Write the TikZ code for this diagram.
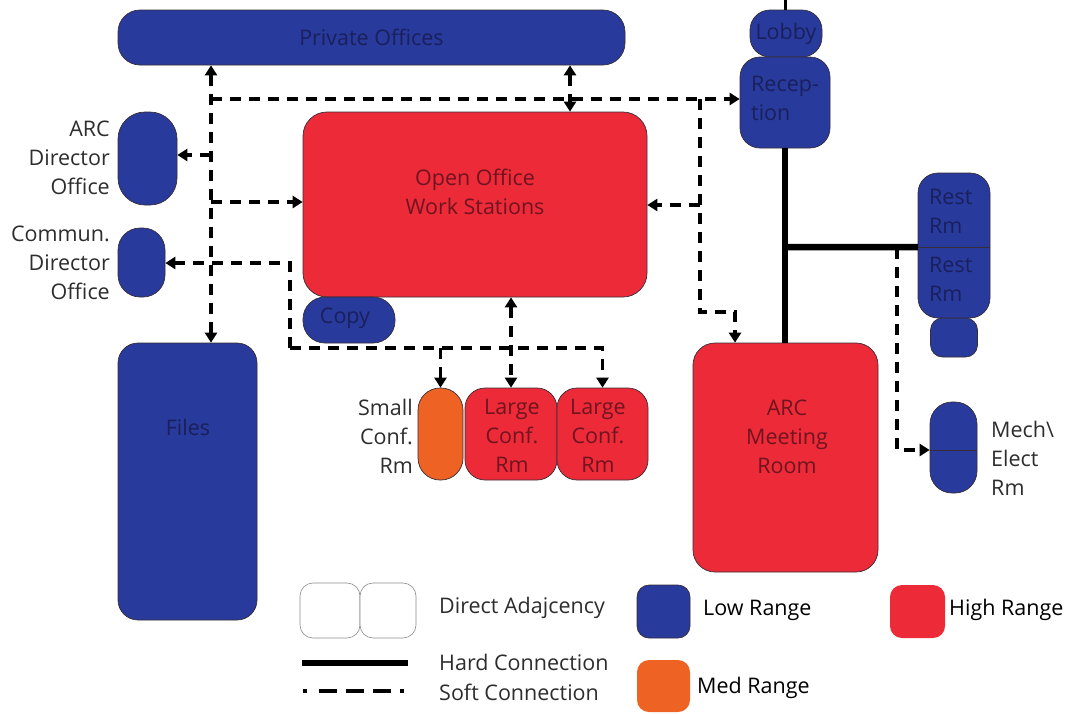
\documentclass[tikz,border=0pt]{standalone}
\usepackage{fontspec}
\setmainfont{Open Sans}
\usetikzlibrary{arrows.meta}
\definecolor{lowblue}{RGB}{40,58,155}
\definecolor{highred}{RGB}{236,42,56}
\definecolor{medorange}{RGB}{238,98,36}
\definecolor{navytext}{RGB}{26,32,92}
\definecolor{redtext}{RGB}{112,20,32}
\definecolor{edgecol}{RGB}{55,45,55}
\definecolor{labelcol}{RGB}{45,45,45}
\begin{document}
\begin{tikzpicture}[x=1pt,y=-1pt,
  >={Triangle[length=10pt,width=12pt]},
  room/.style={draw=edgecol, line width=0.7pt, inner sep=0pt},
  low/.style={room, fill=lowblue},
  high/.style={room, fill=highred},
  med/.style={room, fill=medorange},
  legendbox/.style={draw=black!45, line width=0.6pt, fill=white, inner sep=0pt, rounded corners=13pt},
  intext/.style={font=\fontsize{21.5}{29}\selectfont, inner sep=0pt, align=center},
  navy/.style={intext, text=navytext},
  dred/.style={intext, text=redtext},
  side/.style={font=\fontsize{21.5}{29}\selectfont, text=labelcol, inner sep=0pt},
  soft/.style={line width=3.2pt, dash pattern=on 11pt off 8pt},
  hard/.style={line width=6.5pt},
]
\useasboundingbox (0,0) rectangle (1076,713);

% ---- rooms ----
\node[low, minimum width=507pt, minimum height=55pt, rounded corners=22pt] (po) at (371.5,37.5) {};
\node[navy] (po-t) at (po.center) {Private Offices};

\node[low, minimum width=59pt, minimum height=93pt, rounded corners=27pt] (ardir) at (147.5,158.5) {};
\node[side, align=right, anchor=east] (ardir-t) at (110,158) {ARC\\Director\\Office};

\node[low, minimum width=47pt, minimum height=69pt, rounded corners=22pt] (comm) at (141.5,262.5) {};
\node[side, align=right, anchor=east] (comm-t) at (110,263) {Commun.\\Director\\Office};

\node[low, minimum width=139pt, minimum height=277pt, rounded corners=20pt] (files) at (187.5,481.5) {};
\node[navy] (files-t) at (188,427) {Files};

\node[high, minimum width=344pt, minimum height=185pt, rounded corners=24pt] (oo) at (475,204.5) {};
\node[dred] (oo-t) at (475,192) {Open Office\\Work Stations};

\node[low, minimum width=92pt, minimum height=46pt, rounded corners=22pt] (copy) at (349,320) {};
\node[navy] (copy-t) at (345,318) {Copy};

\node[med, minimum width=45pt, minimum height=92pt, rounded corners=22pt] (sm) at (440.5,434) {};
\node[side, align=right, anchor=east] (sm-t) at (413,436) {Small\\Conf.\\Rm};

\node[high, minimum width=92pt, minimum height=92pt, rounded corners=20pt] (lg1) at (511,434) {};
\node[dred] (lg1-t) at (512,436) {Large\\Conf.\\Rm};

\node[high, minimum width=91pt, minimum height=92pt, rounded corners=20pt] (lg2) at (602.5,434) {};
\node[dred] (lg2-t) at (598,436) {Large\\Conf.\\Rm};

\node[low, minimum width=72pt, minimum height=47pt, rounded corners=20pt] (lobby) at (786,33.5) {};
\node[navy] (lobby-t) at (lobby.center) {Lobby};

\node[low, minimum width=90pt, minimum height=91pt, rounded corners=20pt] (rec) at (785,102.5) {};
\node[navy, align=left, anchor=west] (rec-t) at (751,98) {Recep-\\tion};

% rest rooms: one tall unit split in two, with a small closet under it
\node[low, minimum width=47pt, minimum height=39pt, rounded corners=12pt] (closet) at (954,337.5) {};
\node[low, minimum width=72pt, minimum height=145pt, rounded corners=20pt] (restblk) at (954,245.5) {};
\node[inner sep=0pt, minimum width=72pt, minimum height=74pt] (rest1) at (954,210) {};
\node[inner sep=0pt, minimum width=72pt, minimum height=71pt] (rest2) at (954,282.5) {};
\draw[edgecol, line width=0.7pt] (rest1.south west) -- (rest1.south east);
\node[navy, align=left, anchor=west] (rest1-t) at (929,211) {Rest\\Rm};
\node[navy, align=left, anchor=west] (rest2-t) at (929,279) {Rest\\Rm};

\node[low, minimum width=47pt, minimum height=91pt, rounded corners=22pt] (mech) at (953.5,447.5) {};
\node[side, align=left, anchor=west] (mech-t) at (991,458) {Mech\textbackslash\\Elect\\Rm};

\node[high, minimum width=185pt, minimum height=229pt, rounded corners=22pt] (meet) at (785.5,457.5) {};
\node[dred] (meet-t) at (787,437) {ARC\\Meeting\\Room};

% ---- junction points of the connector runs ----
\coordinate (busL) at (211,99);
\coordinate (busM) at (570,99);
\coordinate (busR) at (700,99);
\coordinate (dirJ) at (211,155);
\coordinate (ooJ) at (211,202);
\coordinate (commJ) at (290,263);
\coordinate (confJ) at (290,348);
\coordinate (meetJ) at (700,312);
\coordinate (meetA) at (735,312);
\coordinate (ooR) at (700,205);
\coordinate (mechT) at (897,248);
\coordinate (mechB) at (897,450);
\coordinate (hubT) at (785,0);
\coordinate (hubR) at (785,247);

% ---- hard connections ----
\draw[line width=3pt] (hubT) -- (lobby.north -| hubT);
\draw[hard] (rec.south -| hubT) -- (meet.north -| hubT);
\draw[hard] (hubR) -- (rest1.south west);

% ---- soft connections ----
\draw[soft,<->] (po.south -| busL) -- (files.north -| busL);
\draw[soft,->] (busL) -- (rec.west |- busL);
\draw[soft,<->] (po.south -| busM) -- (oo.north -| busM);
\draw[soft,->] (dirJ) -- (ardir.east |- dirJ);
\draw[soft,->] (ooJ) -- (oo.west |- ooJ);
\draw[soft,->] (confJ) -- (commJ) -- (comm.east |- commJ);
\draw[soft,->] (confJ) -- (confJ -| lg2) -- (lg2.north);
\draw[soft,->] (confJ -| sm) -- (sm.north);
\draw[soft,<->] (oo.south -| lg1) -- (lg1.north);
\draw[soft,->] (busR) -- (meetJ) -- (meetA) -- (meet.north -| meetA);
\draw[soft,->] (ooR) -- (oo.east |- ooR);
\draw[soft,->] (mechT) -- (mechB) -- (mech.west |- mechB);
\draw[edgecol, line width=0.6pt] (mech.west |- mechB) -- (mech.east |- mechB);

% ---- legend ----
\node[legendbox, minimum width=60pt, minimum height=55pt] (adjA) at (330,610.5) {};
\node[legendbox, minimum width=56pt, minimum height=55pt] (adjB) at (388,610.5) {};
\node[side, anchor=west] (adj-t) at (439,608) {Direct Adajcency};

\coordinate (hardA) at (302,663);
\coordinate (hardB) at (408,663);
\draw[line width=6pt] (hardA) -- (hardB);
\node[side, anchor=west] (hard-t) at (439,662) {Hard Connection};

\coordinate (softA) at (303,691);
\coordinate (softB) at (408,691);
\draw[line width=4pt, dash pattern=on 4pt off 12pt on 18pt off 9pt on 18pt off 9pt on 18pt off 9pt] (softA) -- (softB);
\node[side, anchor=west] (soft-t) at (439,692) {Soft Connection};

\node[low, minimum width=53pt, minimum height=53pt, rounded corners=12pt] (lowkey) at (663.5,611.5) {};
\node[side, anchor=west, text=black] (low-t) at (703,610) {Low Range};

\node[high, draw=none, minimum width=55pt, minimum height=53pt, rounded corners=12pt] (highkey) at (917.5,611.5) {};
\node[side, anchor=west, text=black] (high-t) at (949,610) {High Range};

\node[med, draw=none, minimum width=53pt, minimum height=52pt, rounded corners=12pt] (medkey) at (663.5,686) {};
\node[side, anchor=west, text=black] (med-t) at (697,688) {Med Range};
\end{tikzpicture}
\end{document}
